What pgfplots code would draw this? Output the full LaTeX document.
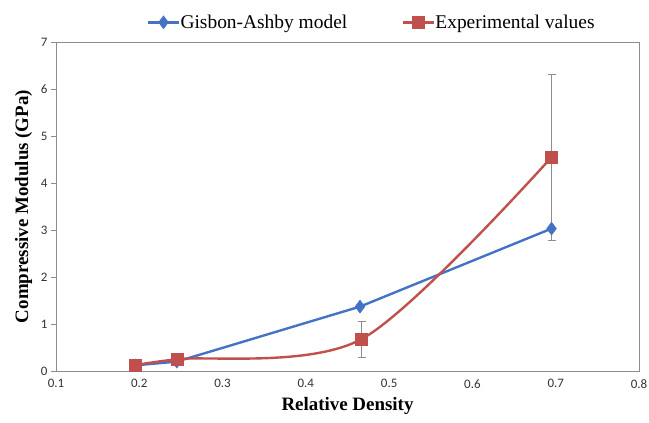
\documentclass[border=0pt]{standalone}
\usepackage{pgfplots}
\pgfplotsset{compat=1.18}
\usepackage{fontspec}
\setmainfont{Liberation Serif}
\newfontfamily\tickfont{Carlito}
\definecolor{cblue}{RGB}{68,114,196}
\definecolor{cred}{RGB}{192,80,77}
\definecolor{cgray}{RGB}{140,140,140}
\begin{document}
\begin{tikzpicture}
\begin{axis}[
  name=ax,
  scale only axis,
  width=583bp, height=329bp,
  xmin=0.1, xmax=0.8, ymin=0, ymax=7,
  xtick={0.1,0.2,...,0.8}, ytick={0,1,...,7},
  xticklabels={0.1,0.2,0.3,0.4,0.5,0.6,0.7,0.8},
  yticklabels={0,1,2,3,4,5,6,7},
  tick label style={font=\tickfont\fontsize{13}{15}\selectfont, text=black!80},
  axis line style={cgray, line width=1pt},
  tick style={cgray, line width=0.8pt},
  xtick style={draw=none},
  ytick pos=left, tick align=outside, major tick length=5bp,
  xlabel={\bfseries\fontsize{19}{21}\selectfont Relative Density},
  ylabel={\bfseries\fontsize{19}{21}\selectfont Compressive Modulus (GPa)},
  xlabel style={yshift=-2bp},
  ylabel style={yshift=2bp},
  legend style={draw=none, fill=none, at={(0.5,1.0)}, anchor=south, xshift=24bp, yshift=8bp,
    legend columns=2, font=\fontsize{19.5}{21}\selectfont,
    /tikz/every even column/.append style={column sep=52bp},
    /tikz/every odd column/.append style={column sep=-2bp}},
  legend image code/.code={
    \draw[mark repeat=2,mark phase=2,#1] plot coordinates {(0cm,0cm) (0.56cm,0cm) (1.12cm,0cm)};},
]
\addplot[cblue, line width=2.4pt, mark=diamond*, mark size=6.5pt, mark options={solid, line width=0.5pt}]
  coordinates {(0.195,0.12) (0.245,0.20) (0.465,1.37) (0.695,3.03)};
\addlegendentry{Gisbon-Ashby model}
\addplot[cred, line width=2.4pt, smooth, tension=0.5, mark=square*, mark size=6bp, mark options={line width=0.5pt},
  error bars/.cd, y dir=both, y explicit,
  error bar style={cgray, line width=0.8pt},
  error mark options={cgray, line width=0.8pt, rotate=90, mark size=4bp}]
  coordinates {(0.195,0.12) +- (0,0.08) (0.245,0.25) +- (0,0.08) (0.467,0.68) +- (0,0.38) (0.695,4.55) +- (0,1.77)};
\addlegendentry{Experimental values}
\end{axis}
\pgfresetboundingbox
\path[use as bounding box] ([shift={(-56bp,-51bp)}]ax.south west) rectangle ([shift={(10bp,42bp)}]ax.north east);
\end{tikzpicture}
\end{document}
